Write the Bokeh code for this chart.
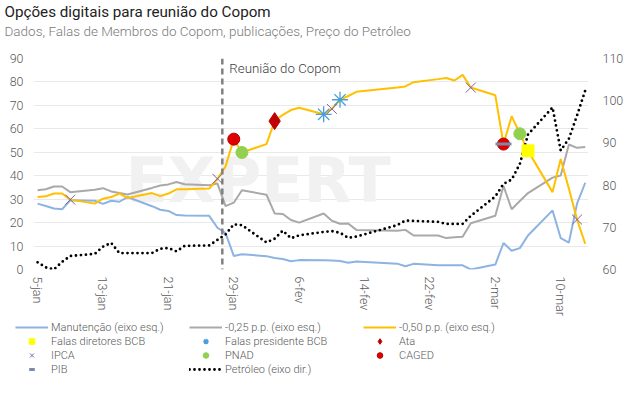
from bokeh.plotting import figure
from bokeh.layouts import column
from bokeh.models import (Range1d, LinearAxis, FixedTicker, Span, Label, Legend,
                          LegendItem, Title)
from bokeh.embed import file_html
from bokeh.resources import INLINE

# ---------------- data ----------------
# business days, counted in calendar days from 5-jan
days = [0, 1, 2, 3, 4, 7, 8, 9, 10, 11, 14, 15, 16, 17, 18, 21, 22, 23, 24, 25,
        28, 29, 30, 31, 32, 35, 36, 37, 38, 39, 44, 45, 46, 49, 50, 51, 52, 53,
        56, 57, 58, 59, 60, 63, 64, 65, 66, 67]

manutencao = [28.1, 27.1, 26.0, 25.7, 29.5, 29.3, 28.0, 29.3, 28.9, 30.9,
              27.0, 25.5, 25.0, 23.2, 23.0, 22.9, 17.8, 15.5, 5.8, 6.5,
              5.7, 4.9, 4.5, 3.5, 4.0, 3.9, 3.8, 3.6, 2.9, 3.4,
              2.5, 1.4, 2.4, 1.8, 1.8, 1.8, 1.8, 0.0,
              2.1, 11.3, 8.0, 9.1, 14.5, 25.2, 13.4, 11.5, 28.1, 37.0]

corte_025 = [33.8, 34.2, 35.4, 35.4, 33.0, 34.0, 34.7, 33.3, 32.6, 32.0,
             34.8, 35.8, 36.3, 37.3, 36.4, 35.9, 36.7, 27.0, 28.5, 33.8,
             31.9, 23.9, 23.7, 21.1, 20.0, 23.9, 20.8, 19.5, 19.6, 16.9,
             16.5, 16.9, 14.5, 14.5, 13.4, 13.8, 14.0, 19.7,
             22.9, 35.6, 25.7, 29.2, 32.6, 39.2, 40.1, 53.3, 51.9, 52.3]

corte_050 = [30.9, 31.2, 32.4, 32.4, 29.8, 28.1, 30.2, 30.9, 32.4, 30.5,
             32.6, 31.3, 32.4, 34.2, 34.2, 34.5, 38.6, 44.0, 55.6, 49.9,
             53.5, 63.3, 66.0, 68.0, 69.0, 66.2, 68.5, 72.4, 74.0, 75.8,
             77.6, 78.1, 79.9, 81.2, 81.7, 80.6, 83.0, 77.6,
             74.3, 53.5, 65.4, 57.9, 50.6, 33.0, 47.1, 34.5, 21.3, 11.0]

petroleo = [61.7, 60.5, 60.0, 61.8, 63.2, 63.7, 65.4, 66.3, 63.9, 63.9,
            63.9, 64.9, 65.1, 64.3, 65.6, 65.7, 67.0, 68.3, 70.7, 70.5,
            66.4, 67.3, 69.2, 67.4, 68.1, 68.9, 69.1, 68.7, 67.5, 67.8,
            70.5, 71.6, 71.5, 71.3, 70.8, 70.8, 70.8, 72.7,
            77.3, 80.3, 81.3, 85.0, 92.0, 98.4, 88.2, 91.0, 96.5, 102.4]

# event markers (day, value on the -0,50 p.p. line)
falas_dir_x, falas_dir_y = [60], [50.6]
falas_pres_x, falas_pres_y = [35, 37], [66.2, 72.4]
ata_x, ata_y = [29], [63.3]
ipca_x, ipca_y = [4, 22, 36, 53, 66], [29.8, 38.7, 68.5, 77.6, 21.3]
pnad_x, pnad_y = [25, 59], [49.9, 57.9]
caged_x, caged_y = [24, 57], [55.6, 53.5]
pib_x, pib_y = [57], [53.5]

meeting_day = 22.6

tick_days = [0, 8, 16, 24, 32, 40, 48, 56, 64]
tick_labels = ["5-jan", "13-jan", "21-jan", "29-jan", "6-fev", "14-fev",
               "22-fev", "2-mar", "10-mar"]
left_ticks = [0, 10, 20, 30, 40, 50, 60, 70, 80, 90]
right_ticks = [60, 70, 80, 90, 100, 110]

FONT = "Roboto Light"


def draw_series(fig, oil_range):
    r = {}
    r["man"] = fig.line(days, manutencao, line_color="#8db3e2", line_width=2)
    r["25"] = fig.line(days, corte_025, line_color="#a9a9a9", line_width=2)
    r["50"] = fig.line(days, corte_050, line_color="#ffc000", line_width=2)
    r["oil"] = fig.line(days, petroleo, y_range_name=oil_range, line_color="black",
                        line_width=2.8, line_dash="0 5", line_cap="round")
    r["dir"] = fig.scatter(falas_dir_x, falas_dir_y, marker="square", size=12,
                           fill_color="#ffff00", line_color="#ffff00")
    r["pres"] = fig.scatter(falas_pres_x, falas_pres_y, marker="asterisk", size=16,
                            line_color="#4a9fd8", line_width=1.3)
    r["ata"] = fig.scatter(ata_x, ata_y, marker="diamond", size=17,
                           fill_color="#c00000", line_color="#c00000")
    r["ipca"] = fig.scatter(ipca_x, ipca_y, marker="x", size=14,
                            line_color="#7f60a8", line_width=1)
    r["pnad"] = fig.scatter(pnad_x, pnad_y, marker="circle", size=12,
                            fill_color="#92d050", line_color="#92d050")
    r["caged"] = fig.scatter(caged_x, caged_y, marker="circle", size=12,
                             fill_color="#e00000", line_color="#b00000")
    r["pib"] = fig.scatter(pib_x, pib_y, marker="dash", size=16,
                           line_color="#7c8aa8", line_width=3)
    return r


# ---------------- main figure ----------------
p = figure(width=626, height=318, output_backend="svg", toolbar_location=None,
           x_range=Range1d(-0.5, 67.4), y_range=Range1d(0, 90),
           min_border_left=33, min_border_right=38, min_border_top=0,
           min_border_bottom=48, title=None)
p.frame_align = False
p.extra_y_ranges = {"oil": Range1d(60, 110)}
p.outline_line_color = None
p.background_fill_color = "white"
p.border_fill_color = "white"

spacer = Title(text=" ", text_font_size="2px", standoff=16)
p.add_layout(spacer, "above")
sub = Title(text="Dados, Falas de Membros do Copom, publicações, Preço do Petróleo",
            align="left", offset=-29, text_font_size="13.5px", text_font=FONT,
            text_font_style="normal", text_color="#7a7a7a", standoff=0)
p.add_layout(sub, "above")
main = Title(text="Opções digitais para reunião do Copom", align="left", offset=-29,
             text_font_size="15.2px", text_font="Roboto", text_font_style="normal",
             text_color="#222222", standoff=0)
p.add_layout(main, "above")

# watermark
wm = Label(x=92, y=53, x_units="screen", y_units="screen", text="EXPERT",
           text_font="DejaVu Sans", text_font_style="bold", text_font_size="62px",
           text_color="#f1f1f1", level="underlay")
p.add_layout(wm)

# axes
ax = p.xaxis[0]
ax.ticker = FixedTicker(ticks=tick_days)
ax.major_label_overrides = {d: l for d, l in zip(tick_days, tick_labels)}
ax.major_label_orientation = "vertical"
ax.major_label_standoff = 7
ay = p.yaxis[0]
ay.ticker = FixedTicker(ticks=left_ticks)
ay.major_label_standoff = 10
ry = LinearAxis(y_range_name="oil", ticker=FixedTicker(ticks=right_ticks))
ry.major_label_standoff = 14
p.add_layout(ry, "right")
for a in (ax, ay, ry):
    a.axis_line_color = None
    a.major_tick_line_color = None
    a.minor_tick_line_color = None
    a.major_tick_out = 0
    a.major_tick_in = 0
    a.minor_tick_out = 0
    a.minor_tick_in = 0
    a.major_label_text_font = FONT
    a.major_label_text_font_size = "12.5px"
    a.major_label_text_color = "#595959"

p.xgrid.grid_line_color = None
p.ygrid.grid_line_color = "#e9e9e9"
p.ygrid.ticker = FixedTicker(ticks=left_ticks)

p.add_layout(Span(location=meeting_day, dimension="height", line_color="#808080",
                  line_width=2.5, line_dash="6 4"))
p.add_layout(Label(x=meeting_day, y=90, x_offset=7, y_offset=-10, text="Reunião do Copom",
                   text_baseline="middle", text_font=FONT, text_font_size="13.3px",
                   text_color="#404040"))

draw_series(p, "oil")

# ---------------- legend strip ----------------
lg = figure(width=626, height=75, output_backend="svg", toolbar_location=None,
            x_range=Range1d(1000, 1001), y_range=Range1d(1000, 1001),
            x_axis_type=None, y_axis_type=None, min_border=0,
            min_border_left=0, min_border_right=0, min_border_top=0,
            min_border_bottom=0, title=None)
lg.frame_align = False
lg.outline_line_color = None
lg.background_fill_color = "white"
lg.border_fill_color = "white"
rl = draw_series(lg, "default")

labels = [("man", "Manutenção (eixo esq.)"), ("25", "-0,25 p.p. (eixo esq.)"),
          ("50", "-0,50 p.p. (eixo esq.)"), ("dir", "Falas diretores BCB"),
          ("pres", "Falas presidente BCB"), ("ata", "Ata"), ("ipca", "IPCA"),
          ("pnad", "PNAD"), ("caged", "CAGED"), ("pib", "PIB"),
          ("oil", "Petróleo (eixo dir.)")]
items = [LegendItem(label=t, renderers=[rl[k]]) for k, t in labels]
leg = Legend(items=items, location=(15, 17), orientation="horizontal", ncols=3,
             glyph_width=33, glyph_height=14, label_height=14, label_width=138,
             label_standoff=3, spacing=0, padding=0, margin=0,
             border_line_color=None, background_fill_alpha=0,
             label_text_font=FONT, label_text_font_size="11px",
             label_text_color="#595959")
lg.add_layout(leg, "center")

layout = column(p, lg, spacing=0)
open("out.html", "w").write(file_html(layout, INLINE))
